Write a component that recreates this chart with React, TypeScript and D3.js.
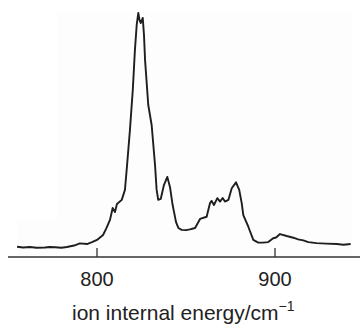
import React from "react";
import * as d3 from "d3";

const energy: number[] = [
  755.1, 758.5, 762.4, 766.0, 770.8, 773.5, 776.4, 780.0, 783.1, 787.1, 790.4, 794.4, 797.2, 800.0,
  803.4, 805.1, 807.3, 808.8, 810.1, 811.2, 813.9, 815.7, 816.9, 818.5, 820.1, 821.3, 822.3,
  823.2, 823.9, 824.6, 825.7, 826.4, 827.0, 828.8, 830.7, 832.6, 833.5, 834.4, 835.8, 837.6,
  839.5, 841.0, 842.5, 844.4, 845.7, 847.6, 850.0, 852.2, 855.1, 857.9, 861.6, 863.5, 864.4,
  865.7, 867.6, 869.1, 870.6, 871.9, 873.8, 875.7, 878.1, 879.9, 881.3, 882.2, 885.0, 887.8,
  890.6, 893.3, 896.2, 899.0, 900.6, 902.8, 906.6, 910.3, 913.0, 915.9, 918.7, 923.4, 928.7,
  934.7, 938.5, 942.5,
];

const intensity: number[] = [
  4.2, 3.9, 4.1, 3.8, 3.9, 4.1, 4.0, 3.8, 4.1, 4.7, 5.6, 5.3, 6.1, 7.0,
  9.0, 11.5, 15.2, 20.1, 18.4, 21.7, 23.4, 27.5, 37.7, 52.0, 68.4, 84.8, 95.1,
  100, 97.1, 95.9, 98.0, 91.0, 80.7, 62.3, 54.1, 37.7, 27.5, 23.4, 23.8, 29.5,
  32.8, 28.7, 21.3, 14.3, 11.9, 11.1, 11.0, 11.3, 11.9, 15.6, 16.5, 22.1, 23.0,
  21.3, 24.1, 22.7, 24.2, 22.7, 23.4, 28.2, 30.6, 27.5, 22.1, 17.2, 12.4, 7.0,
  5.9, 5.9, 6.1, 7.7, 8.0, 9.4, 8.6, 7.9, 7.2, 6.8, 6.1, 5.7, 5.5,
  5.3, 5.0, 5.3,
];

const tickValues: number[] = [800, 900];
const axisTitle = "ion internal energy/cm";
const axisTitleSup = "\u22121";

export default function App() {
  const width = 360;
  const height = 329;
  const x = d3.scaleLinear().domain([750, 950]).range([8, 364]);
  const y = d3.scaleLinear().domain([0, 100]).range([257, 13]);
  const pts: [number, number][] = energy.map((e, i) => [e, intensity[i]]);
  const line = d3
    .line<[number, number]>()
    .x((d) => x(d[0]))
    .y((d) => y(d[1]))
    .curve(d3.curveLinear);
  const axisY = y(0);
  return (
    <svg
      width={width}
      height={height}
      style={{ position: "absolute", left: 0, top: 0, background: "#ffffff" }}
      fontFamily="'Liberation Sans', Arial, sans-serif"
    >
      <rect x={57} y={12} width={295} height={243} fill="#fdfdfd" />
      <rect x={17} y={220} width={40} height={35} fill="#fdfdfd" />
      <path d={line(pts) || ""} fill="none" stroke="#1e1e1e" strokeWidth={1.9} strokeLinejoin="round" />
      <line x1={x(750)} x2={width} y1={axisY} y2={axisY} stroke="#333" strokeWidth={1.5} />
      {tickValues.map((t) => (
        <g key={t}>
          <line x1={x(t)} x2={x(t)} y1={axisY} y2={axisY - 9} stroke="#333" strokeWidth={1.3} />
          <text x={x(t)} y={286} textAnchor="middle" fontSize={20} fill="#222">
            {t}
          </text>
        </g>
      ))}
      <text x={72} y={320} fontSize={21} fill="#222">
        {axisTitle}
        <tspan dy={-9} fontSize={14}>
          {axisTitleSup}
        </tspan>
      </text>
    </svg>
  );
}
